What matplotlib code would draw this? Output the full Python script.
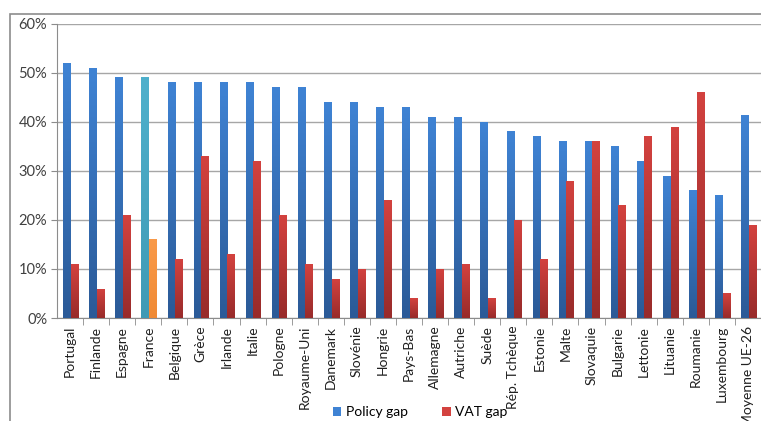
import numpy as np
import matplotlib
matplotlib.use("Agg")
import matplotlib.pyplot as plt
from matplotlib.patches import Rectangle, Patch
from matplotlib.colors import LinearSegmentedColormap

plt.rcParams['font.family'] = ['Lato', 'DejaVu Sans']

# Data
pays = ["Portugal", "Finlande", "Espagne", "France", "Belgique", "Grèce", "Irlande",
        "Italie", "Pologne", "Royaume-Uni", "Danemark", "Slovénie", "Hongrie",
        "Pays-Bas", "Allemagne", "Autriche", "Suède", "Rép. Tchèque", "Estonie",
        "Malte", "Slovaquie", "Bulgarie", "Lettonie", "Lituanie", "Roumanie",
        "Luxembourg", "Moyenne UE-26"]
policy_gap = [52, 51, 49, 49, 48, 48, 48, 48, 47, 47, 44, 44, 43, 43, 41, 41, 40,
              38, 37, 36, 36, 35, 32, 29, 26, 25, 41.3]
vat_gap = [11, 6, 21, 16, 12, 33, 13, 32, 21, 11, 8, 10, 24, 4, 10, 11, 4, 20, 12,
           28, 36, 23, 37, 39, 46, 5, 19]
y_ticks = [0, 10, 20, 30, 40, 50, 60]

# Colours (top, bottom) for the gradients
blue = ("#3f83d4", "#2b5a97")
red = ("#d3423f", "#982b2a")
cyan = ("#4fb0cc", "#3f9ab5")
orange = ("#f99a4a", "#f08a35")

W, H = 761, 421
fig = plt.figure(figsize=(W / 100, H / 100), dpi=100)

# outer chart border (cut off at right / bottom)
fig.patches.append(Rectangle((10 / W, -0.1), 1.2, 1.1 - 14 / H, transform=fig.transFigure,
                             fill=False, edgecolor="#8c8c8c", linewidth=1.2))

ax = fig.add_axes([57 / W, 1 - 318 / H, (W - 57) / W, (318 - 23.5) / H])

x = np.arange(len(pays))
w = 0.29
bars_p = ax.bar(x - w / 2 + 0.03, policy_gap, w, color=blue[0], zorder=3)
bars_v = ax.bar(x + w / 2 + 0.03, vat_gap, w, color=red[0], zorder=3)

grad = np.linspace(0, 1, 100).reshape(-1, 1)


def shade(bar, cols):
    cmap = LinearSegmentedColormap.from_list("g", [cols[1], cols[0]])
    x0, y0 = bar.get_x(), bar.get_y()
    im = ax.imshow(grad, cmap=cmap, aspect="auto", origin="lower",
                   extent=(x0, x0 + bar.get_width(), y0, y0 + bar.get_height()),
                   zorder=4)
    im.set_clip_path(bar)


fr = pays.index("France")
for i, b in enumerate(bars_p):
    shade(b, cyan if i == fr else blue)
for i, b in enumerate(bars_v):
    shade(b, orange if i == fr else red)

ax.set_xlim(-0.5, len(pays) - 0.5 - 11 / 26.5)
ax.set_ylim(0, 60)
ax.set_yticks(y_ticks)
ax.set_yticklabels([f"{v}%" for v in y_ticks], fontsize=10.5, color="#404040")
ax.set_xticks(x)
ax.set_xticklabels(pays, rotation=90, fontsize=10, color="#202020")
ax.set_xticks(np.arange(len(pays)) + 0.5, minor=True)
ax.tick_params(axis="x", which="major", length=0, pad=5.5)
ax.tick_params(axis="x", which="minor", length=5, color="#8c8c8c")
ax.tick_params(axis="y", length=4, color="#8c8c8c", pad=3)

ax.grid(axis="y", color="#a6a6a6", linewidth=1, zorder=0)
for s in ["top", "right"]:
    ax.spines[s].set_visible(False)
ax.spines["left"].set_color("#8c8c8c")
ax.spines["bottom"].set_color("#8c8c8c")

handles = [Patch(facecolor=blue[0]), Patch(facecolor=red[0])]
fig.legend(handles, ["Policy gap", "VAT gap"], loc="center", ncol=2,
           bbox_to_anchor=(0.552, 1 - 412 / H), frameon=False, fontsize=10,
           handlelength=0.6, handleheight=0.6, handletextpad=0.3, columnspacing=2.5,
           borderpad=0)

fig.savefig("out.png", dpi=100)
